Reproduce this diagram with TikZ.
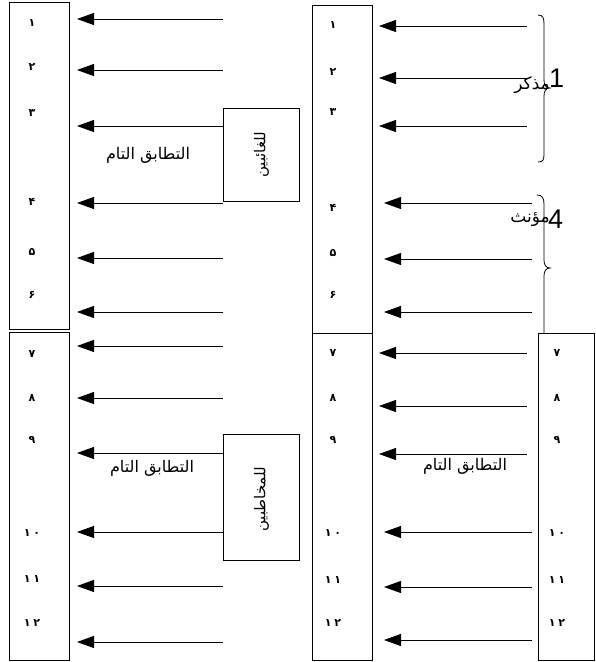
\documentclass[tikz,border=0pt]{standalone}
\usepackage{fontspec}
\setmainfont{Liberation Sans}
\newfontfamily\arabicfont[Script=Arabic]{DejaVu Sans}
\TeXXeTstate=1
\usetikzlibrary{arrows.meta}
\newcommand\twodig[2]{#1\kern3pt#2}
\begin{document}
\begin{tikzpicture}[x=1pt,y=-1pt,
  colbox/.style={draw,line width=0.8pt,inner sep=0pt},
  lblbox/.style={draw,line width=0.8pt,inner sep=0pt,minimum width=76pt},
  num/.style={inner sep=0pt,font=\arabicfont\bfseries\fontsize{11}{11}\selectfont},
  arr/.style={draw,line width=0.9pt,-{Triangle[length=17pt,width=12pt]}},
  lbl/.style={inner sep=0pt,font=\arabicfont\fontsize{16}{16}\selectfont},
  vlbl/.style={inner sep=0pt,rotate=90,font=\arabicfont\fontsize{15}{15}\selectfont},
  bracelbl/.style={inner sep=0pt,font=\arabicfont\fontsize{17}{17}\selectfont},
  bracepath/.style={draw,line width=0.8pt},
  big/.style={inner sep=0pt,font=\fontsize{27}{27}\selectfont}]
\useasboundingbox (0,0) rectangle (595,662);

% column boxes
\node[colbox,anchor=north west,minimum width=60pt,minimum height=327pt] (L1) at (9,2) {};
\node[colbox,anchor=north west,minimum width=60pt,minimum height=328pt] (L2) at (9,332) {};
\node[colbox,anchor=north west,minimum width=60pt,minimum height=328pt] (M1) at (312,5) {};
\node[colbox,anchor=north west,minimum width=60pt,minimum height=327pt] (M2) at (312,333) {};
\node[colbox,anchor=north west,minimum width=56pt,minimum height=327pt] (R) at (538,333) {};

% label boxes
\node[lblbox,anchor=north west,minimum height=93pt] (G) at (223,108) {};
\node[vlbl] (Gt) at (G.center) {\beginR للغائبين\endR};
\node[lblbox,anchor=north west,minimum height=126pt] (K) at (223,434) {};
\node[vlbl] (Kt) at ([yshift=-2pt]K.center) {\beginR للمخاطبين\endR};

% left arrows
\foreach \i/\y in {1/19,2/70,3/126,4/203,5/258,6/312,7/346,8/398,9/453,10/532,11/586,12/642}{
  \coordinate (lt\i) at (77,\y);
  \coordinate (ls\i) at (223,\y);
}
\foreach \i in {1,2,4,5,6,7,8,11,12}{ \draw[arr] (ls\i) -- (lt\i); }
\draw[arr] (G.west |- lt3) -- (lt3);
\draw[arr] (K.west |- lt9) -- (lt9);
\draw[arr] (K.west |- lt10) -- (lt10);

% middle arrows
\foreach \i/\y/\xs/\xt in {1/26/527/379,2/78/527/379,3/126/527/379,4/203/532/384,5/259/532/384,6/312/532/384,
  7/353/527/379,8/406/527/379,9/454/527/379,10/532/532/384,11/587/532/384,12/640/532/384}{
  \coordinate (mt\i) at (\xt,\y);
  \coordinate (ms\i) at (\xs,\y);
  \draw[arr] (ms\i) -- (mt\i);
}

% numerals
\foreach \i/\y/\d in {1/23/۱,2/67/۲,3/113/۳,4/202/۴,5/252/۵,6/295/۶,7/354/۷,8/398/۸,9/440/۹,
  10/533/{\twodig{۱}{۰}},11/579/{\twodig{۱}{۱}},12/623/{\twodig{۱}{۲}}}{
  \node[num] (ln\i) at (32,\y) {\d};
}
\foreach \i/\y/\d in {1/25/۱,2/72/۲,3/112/۳,4/208/۴,5/253/۵,6/295/۶,7/353/۷,8/398/۸,9/440/۹,
  10/533/{\twodig{۱}{۰}},11/580/{\twodig{۱}{۱}},12/623/{\twodig{۱}{۲}}}{
  \node[num] (mn\i) at (333,\y) {\d};
}
\foreach \i/\y/\d in {7/353/۷,8/398/۸,9/440/۹,
  10/533/{\twodig{۱}{۰}},11/580/{\twodig{۱}{۱}},12/623/{\twodig{۱}{۲}}}{
  \node[num] (rn\i) at (557,\y) {\d};
}

% text labels
\node[lbl] (T1) at (148,155) {\beginR التطابق التام\endR};
\node[lbl] (T2) at (152,468) {\beginR التطابق التام\endR};
\node[lbl] (T3) at (465,466) {\beginR التطابق التام\endR};

% braces
\draw[bracepath] (538,15) .. controls (543,15) and (544,18) .. (544,24) -- (544,80)
  .. controls (544,85) and (546,88) .. (550,88) .. controls (546,88) and (544,91) .. (544,96)
  -- (544,154) .. controls (544,160) and (543,162) .. (538,162);
\draw[bracepath] (537,195) .. controls (542,195) and (544,198) .. (544,204) -- (544,260)
  .. controls (544,265) and (546,268) .. (550,268) .. controls (546,268) and (544,271) .. (544,276)
  -- (R.north -| 544,0);

\node[bracelbl,anchor=east] (B1t) at (550,85) {\beginR مذكر\endR};
\node[big,anchor=west] (B1n) at (549,78) {1};
\node[bracelbl,anchor=east] (B2t) at (550,220) {\beginR مؤنث\endR};
\node[big,anchor=west] (B2n) at (548,219) {4};
\end{tikzpicture}
\end{document}
